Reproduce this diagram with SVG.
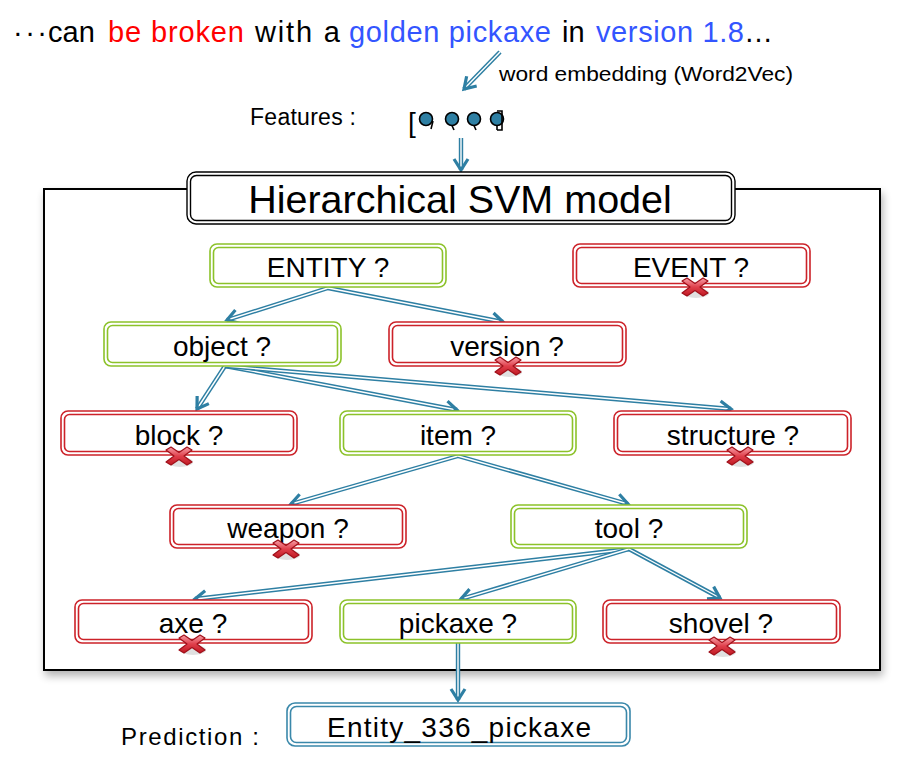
<svg xmlns="http://www.w3.org/2000/svg" width="916" height="758" viewBox="0 0 916 758">
<defs>
<style>
text{font-family:"Liberation Sans",Arial,"Noto Sans CJK JP",sans-serif;fill:#000}
.nt{font-size:28px;text-anchor:middle}
.g{fill:#fff;stroke:#8cc22a;stroke-width:1.6}
.gi{fill:none;stroke:#8cc22a;stroke-width:1.6}
.r{fill:#fff;stroke:#cc2229;stroke-width:1.6}
.ri{fill:none;stroke:#cc2229;stroke-width:1.6}
.b{fill:#fff;stroke:#3a88aa;stroke-width:1.6}
.bi{fill:none;stroke:#3a88aa;stroke-width:1.6}
.k{fill:#fff;stroke:#000;stroke-width:1.4}
.ki{fill:none;stroke:#000;stroke-width:1.4}
.lo{fill:none;stroke:#2e7fa3;stroke-width:4.4}
.li{fill:none;stroke:#fff;stroke-width:1.4;marker-end:url(#ah)}
</style>
<marker id="ah" markerUnits="userSpaceOnUse" markerWidth="20" markerHeight="20" refX="0" refY="0" viewBox="-14 -10 16 20" orient="auto">
<path d="M-11,-7 L0,0 L-11,7" fill="none" stroke="#2e7fa3" stroke-width="3.2" stroke-linejoin="miter"/>
</marker>
<linearGradient id="xg" x1="0" y1="0" x2="0" y2="1">
<stop offset="0" stop-color="#f7a0a8"/>
<stop offset="0.5" stop-color="#e0404c"/>
<stop offset="1" stop-color="#c01822"/>
</linearGradient>
<symbol id="x" viewBox="-15 -11 30 24" width="30" height="24" overflow="visible">
<ellipse cx="1" cy="6" rx="13" ry="5" fill="#000" opacity="0.12"/>
<path d="M-13,-6 L-8,-9 L0,-3.5 L8,-9 L13,-6 L5,0 L13,6 L8,9 L0,3.5 L-8,9 L-13,6 L-5,0 Z" fill="url(#xg)" stroke="#a0101a" stroke-width="1.2" stroke-linejoin="round"/>
</symbol>
<filter id="sh" x="-5%" y="-5%" width="110%" height="115%">
<feGaussianBlur in="SourceAlpha" stdDeviation="4"/>
<feOffset dx="2" dy="5" result="o"/>
<feComponentTransfer><feFuncA type="linear" slope="0.3"/></feComponentTransfer>
<feMerge><feMergeNode/><feMergeNode in="SourceGraphic"/></feMerge>
</filter>
</defs>
<rect width="916" height="758" fill="#fff"/>

<g id="sentence">
<text font-size="29" y="42"><tspan x="13" textLength="34">···</tspan><tspan x="48">can</tspan><tspan x="108" fill="#ff0000" textLength="136">be broken</tspan><tspan x="255" textLength="85">with a</tspan><tspan x="349" fill="#3355ff" textLength="202">golden pickaxe</tspan><tspan x="562">in</tspan><tspan x="596" fill="#3355ff" textLength="148">version 1.8</tspan><tspan x="744">…</tspan></text>
</g>
<text x="499" y="81" font-size="20" textLength="294" lengthAdjust="spacingAndGlyphs">word embedding (Word2Vec)</text>
<text x="250" y="125" font-size="23" textLength="106">Features :</text>
<g id="features">
<text x="408" y="132" font-size="28">[</text>
<g fill="#2e7fa3" stroke="#000" stroke-width="1.6">
<circle cx="426" cy="119" r="6.5"/>
<circle cx="452" cy="119" r="6.5"/>
<circle cx="474" cy="119" r="6.5"/>
<circle cx="497" cy="119" r="6.5"/>
</g>
<g stroke="#000" stroke-width="1.6" fill="none">
<path d="M433,121 L431,129"/>
<path d="M452,125.5 L454,130"/>
<path d="M474,125.5 L476,130"/>
<path d="M497,125.5 L497,130"/>
<path d="M497,111 L502,111 L502,130 L497,130"/>
</g>
</g>

<rect id="frame" x="44" y="189" width="836" height="481" fill="#fff" stroke="#000" stroke-width="2" filter="url(#sh)"/>

<g id="connectors">
<path class="lo" d="M500,52 L464,89"/><path class="li" d="M500,52 L464,89"/>
<path class="lo" d="M461,138 L461,170"/><path class="li" d="M461,138 L461,170"/>
<path class="lo" d="M328,288 L227,320"/><path class="li" d="M328,288 L227,320"/>
<path class="lo" d="M328,288 L503,322"/><path class="li" d="M328,288 L503,322"/>
<path class="lo" d="M225,366 L197,409"/><path class="li" d="M225,366 L197,409"/>
<path class="lo" d="M225,366 L457,410"/><path class="li" d="M225,366 L457,410"/>
<path class="lo" d="M225,366 L731,409"/><path class="li" d="M225,366 L731,409"/>
<path class="lo" d="M458,456 L291,504"/><path class="li" d="M458,456 L291,504"/>
<path class="lo" d="M458,456 L628,504"/><path class="li" d="M458,456 L628,504"/>
<path class="lo" d="M629,549 L195,599"/><path class="li" d="M629,549 L195,599"/>
<path class="lo" d="M629,549 L461,599"/><path class="li" d="M629,549 L461,599"/>
<path class="lo" d="M629,549 L720,598"/><path class="li" d="M629,549 L720,598"/>
<path class="lo" d="M458,643 L458,700"/><path class="li" d="M458,643 L458,700"/>
</g>

<g id="title">
<rect class="k" x="187" y="172" width="548" height="52" rx="9"/>
<rect class="ki" x="190.5" y="175.5" width="541" height="45" rx="6"/>
<text x="460" y="213" font-size="39.5" text-anchor="middle">Hierarchical SVM model</text>
</g>

<g id="n-entity">
<rect class="g" x="210" y="244" width="236" height="43" rx="7"/>
<rect class="gi" x="213.5" y="247.5" width="229" height="36" rx="5"/>
<text class="nt" x="328" y="277">ENTITY ?</text>
</g>
<g id="n-event">
<rect class="r" x="573" y="244" width="237" height="43" rx="7"/>
<rect class="ri" x="576.5" y="247.5" width="230" height="36" rx="5"/>
<text class="nt" x="691" y="277">EVENT ?</text>
<use href="#x" x="680" y="276"/>
</g>
<g id="n-object">
<rect class="g" x="104" y="322" width="237" height="44" rx="7"/>
<rect class="gi" x="107.5" y="325.5" width="230" height="37" rx="5"/>
<text class="nt" x="222" y="356">object ?</text>
</g>
<g id="n-version">
<rect class="r" x="389" y="322" width="237" height="44" rx="7"/>
<rect class="ri" x="392.5" y="325.5" width="230" height="37" rx="5"/>
<text class="nt" x="507" y="356">version ?</text>
<use href="#x" x="493" y="355"/>
</g>
<g id="n-block">
<rect class="r" x="61" y="411" width="236" height="44" rx="7"/>
<rect class="ri" x="64.5" y="414.5" width="229" height="37" rx="5"/>
<text class="nt" x="179" y="445">block ?</text>
<use href="#x" x="164" y="445"/>
</g>
<g id="n-item">
<rect class="g" x="340" y="411" width="236" height="44" rx="7"/>
<rect class="gi" x="343.5" y="414.5" width="229" height="37" rx="5"/>
<text class="nt" x="458" y="445">item ?</text>
</g>
<g id="n-structure">
<rect class="r" x="614" y="411" width="237" height="44" rx="7"/>
<rect class="ri" x="617.5" y="414.5" width="230" height="37" rx="5"/>
<text class="nt" x="733" y="445">structure ?</text>
<use href="#x" x="725" y="445"/>
</g>
<g id="n-weapon">
<rect class="r" x="170" y="505" width="236" height="43" rx="7"/>
<rect class="ri" x="173.5" y="508.5" width="229" height="36" rx="5"/>
<text class="nt" x="288" y="538">weapon ?</text>
<use href="#x" x="271" y="538"/>
</g>
<g id="n-tool">
<rect class="g" x="511" y="505" width="236" height="43" rx="7"/>
<rect class="gi" x="514.5" y="508.5" width="229" height="36" rx="5"/>
<text class="nt" x="629" y="538">tool ?</text>
</g>
<g id="n-axe">
<rect class="r" x="75" y="600" width="237" height="43" rx="7"/>
<rect class="ri" x="78.5" y="603.5" width="230" height="36" rx="5"/>
<text class="nt" x="193" y="633">axe ?</text>
<use href="#x" x="177" y="633"/>
</g>
<g id="n-pickaxe">
<rect class="g" x="340" y="600" width="236" height="43" rx="7"/>
<rect class="gi" x="343.5" y="603.5" width="229" height="36" rx="5"/>
<text class="nt" x="458" y="633">pickaxe ?</text>
</g>
<g id="n-shovel">
<rect class="r" x="603" y="600" width="237" height="43" rx="7"/>
<rect class="ri" x="606.5" y="603.5" width="230" height="36" rx="5"/>
<text class="nt" x="721" y="633">shovel ?</text>
<use href="#x" x="707" y="635"/>
</g>

<text x="121" y="745" font-size="24" textLength="138">Prediction :</text>
<g id="n-prediction">
<rect class="b" x="287" y="703" width="343" height="43" rx="8"/>
<rect class="bi" x="290.5" y="706.5" width="336" height="36" rx="6"/>
<text class="nt" x="459" y="737" font-size="30" textLength="264">Entity_336_pickaxe</text>
</g>
</svg>
